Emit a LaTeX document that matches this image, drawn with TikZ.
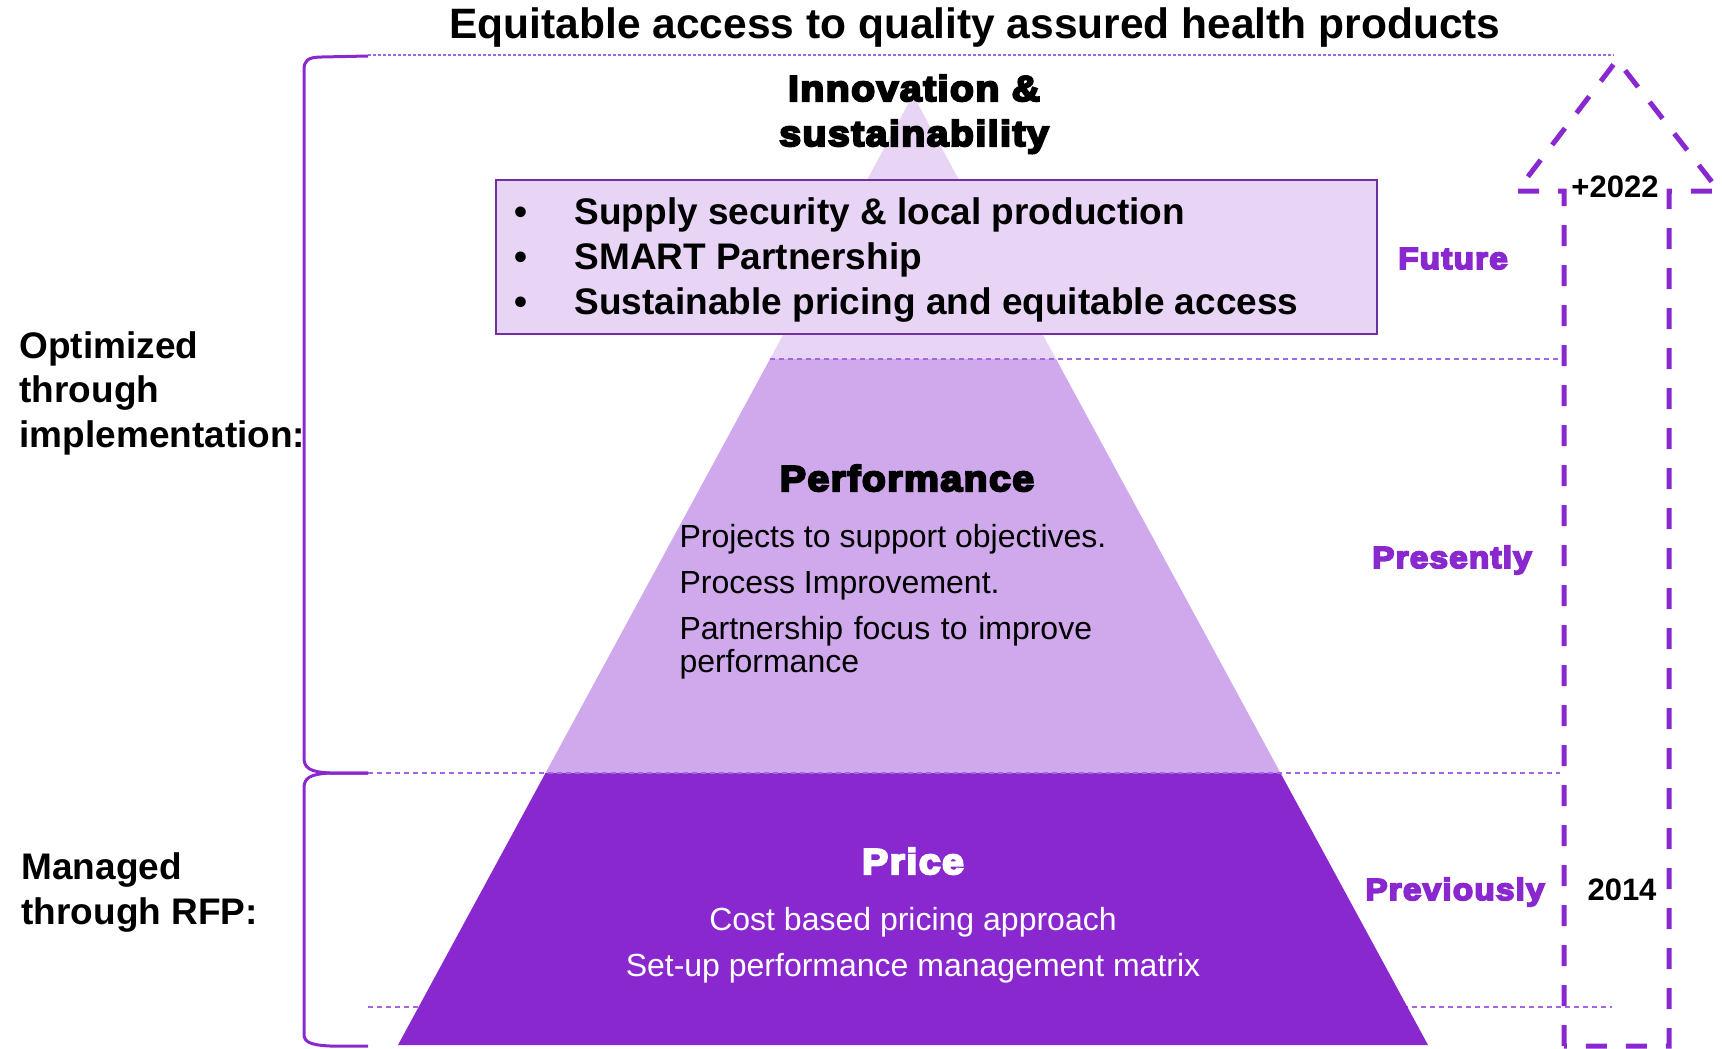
\documentclass[tikz,border=0pt]{standalone}
\usepackage{fontspec}
\setmainfont{Liberation Sans}
\newfontfamily\heavyfont{Liberation Sans}[FakeStretch=1.09, LetterSpace=4, BoldFeatures={FakeBold=6}]
\usepackage{xcolor}
\usetikzlibrary{positioning}

\definecolor{deeppurple}{RGB}{138,40,208}
\definecolor{midlilac}{RGB}{208,168,236}
\definecolor{palelilac}{RGB}{232,213,246}
\definecolor{guidelilac}{RGB}{165,100,225}
\definecolor{boxpurple}{RGB}{112,48,160}

\begin{document}
\begin{tikzpicture}[x=1pt, y=-1pt, line width=1pt,
    heavy/.style={font=\heavyfont\bfseries\fontsize{36}{40}\selectfont, inner sep=0pt},
    sidelabel/.style={font=\heavyfont\bfseries\fontsize{30.5}{36}\selectfont, text=deeppurple, inner sep=0pt},
    headline/.style={font=\bfseries\fontsize{42.5}{48}\selectfont, inner sep=0pt},
    bold/.style={font=\bfseries\fontsize{37}{44.5}\selectfont, inner sep=0pt},
    item/.style={font=\bfseries\fontsize{37}{40}\selectfont, inner sep=0pt},
    body/.style={font=\fontsize{32}{33}\selectfont, inner sep=0pt},
    guide/.style={guidelilac, line width=1.2pt, dash pattern=on 5pt off 4pt},
    brace/.style={deeppurple, line width=3pt},
    year/.style={font=\bfseries\fontsize{31}{36}\selectfont, inner sep=0pt}]

    \useasboundingbox (0,0) rectangle (1722,1049);

    % title
    \node[headline, anchor=base] (title) at (975,39) {Equitable access to quality assured health products};

    % guide hidden behind the pyramid
    \draw[guide] (368,1007) -- (1612,1007);

    % pyramid
    \coordinate (apex) at (913,95);
    \fill[palelilac] (apex) -- (1056,359) -- (770,359) -- cycle;
    \fill[midlilac] (770,359) -- (1056,359) -- (1280.5,773) -- (545.5,773) -- cycle;
    \fill[deeppurple] (545.5,773) -- (1280.5,773) -- (1428,1045) -- (398,1045) -- cycle;

    % level guides
    \draw[guidelilac, line width=1.2pt, dash pattern=on 3pt off 2pt] (368,55) -- (1614,55);
    \draw[guide] (770,359) -- (1560,359);
    \draw[guide] (368,773) -- (1560,773);

    % brackets on the left
    \draw[brace] (368,56) -- (322,57) .. controls (307,57) and (304,61) .. (304,70)
        -- (304,758) .. controls (304,768) and (310,772) .. (330,773) -- (368,773);
    \draw[brace] (368,773) -- (330,773) .. controls (310,774) and (304,778) .. (304,788)
        -- (304,1034) .. controls (304,1042) and (310,1045) .. (330,1046) -- (368,1046);

    % future box
    \node[draw=boxpurple, fill=palelilac, line width=1.5pt, minimum width=881pt,
        minimum height=154pt, anchor=north west, inner sep=0pt] (futurebox) at (495,179) {};
    \foreach \txt [count=\i] in {Supply security \& local production, SMART Partnership,
        Sustainable pricing and equitable access} {
        \node[item, anchor=base] (dot\i) at (521,179+45*\i) {\textbullet};
        \node[item, anchor=base west] (item\i) at (574,179+45*\i) {\txt};
    }

    % pyramid labels
    \node[heavy, anchor=base] (innov) at (914,101) {Innovation \&};
    \node[heavy, anchor=base] (sustain) at (914,146) {sustainability};
    \node[heavy, anchor=base] (perf) at (907,491) {Performance};
    \node[body, anchor=base west] (proj) at (679,547) {Projects to support objectives.};
    \node[body, anchor=base west] (proc) at (679,593) {Process Improvement.};
    \node[body, anchor=base west, text width=440pt, align=left] (focus) at (679,639)
        {Partnership focus to improve\\performance};
    \node[heavy, text=white, anchor=base] (price) at (913,874) {Price};
    \node[body, text=white, anchor=base] (cost) at (913,930) {Cost based pricing approach};
    \node[body, text=white, anchor=base] (setup) at (913,976) {Set-up performance management matrix};

    % stage labels
    \node[sidelabel, anchor=base] (future) at (1453,269) {Future};
    \node[sidelabel, anchor=base] (presently) at (1452,568) {Presently};
    \node[sidelabel, anchor=base] (previously) at (1455,900) {Previously};

    % left labels (base = last line)
    \node[bold, anchor=base west, align=left] (optim) at (19,447) {Optimized\\through\\implementation:};
    \node[bold, anchor=base west, align=left] (managed) at (21,924) {Managed\\through RFP:};

    % time arrow
    \draw[deeppurple, line width=5pt, dash pattern=on 21pt off 19pt] (1564,1046) -- (1564,191)
        -- (1517,191) -- (1617,60) -- (1719,191) -- (1669,191) -- (1669,1046) -- cycle;
    \node[year, anchor=base] (y2022) at (1615,197) {+2022};
    \node[year, anchor=base] (y2014) at (1622,900) {2014};
\end{tikzpicture}
\end{document}
